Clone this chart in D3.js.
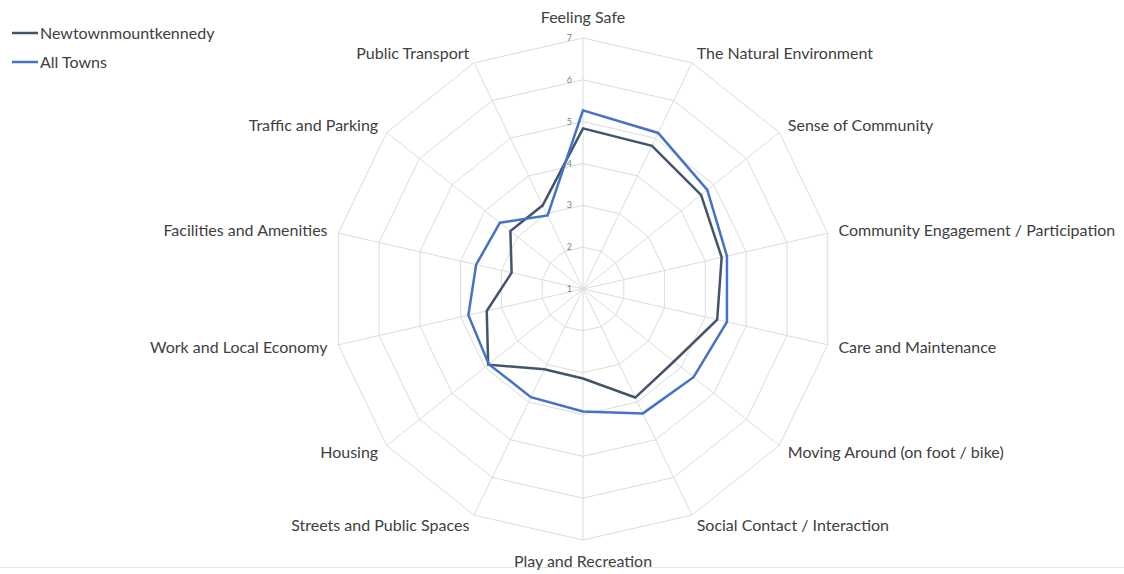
<!DOCTYPE html>
<html>
<head>
<meta charset="utf-8">
<script src="https://cdn.jsdelivr.net/npm/d3@7"></script>
<style>
  html, body { margin: 0; padding: 0; background: #ffffff; }
  svg { display: block; }
  text { font-family: "Lato", "Liberation Sans", sans-serif; }
</style>
</head>
<body>
<svg id="chart" width="1124" height="574"></svg>
<script>
const categories = [
  "Feeling Safe",
  "The Natural Environment",
  "Sense of Community",
  "Community Engagement / Participation",
  "Care and Maintenance",
  "Moving Around (on foot / bike)",
  "Social Contact / Interaction",
  "Play and Recreation",
  "Streets and Public Spaces",
  "Housing",
  "Work and Local Economy",
  "Facilities and Amenities",
  "Traffic and Parking",
  "Public Transport"
];
const seriesNames = ["Newtownmountkennedy", "All Towns"];
const newtownValues = [4.84, 4.80, 4.61, 4.40, 4.29, 3.78, 3.88, 3.14, 3.13, 3.90, 3.36, 2.75, 3.22, 3.22];
const allTownsValues = [5.27, 5.14, 4.80, 4.53, 4.53, 4.38, 4.30, 3.93, 3.87, 3.88, 3.81, 3.62, 3.54, 2.95];
const tickValues = [1, 2, 3, 4, 5, 6, 7];
const seriesColors = ["#44546A", "#4472C4"];

const svg = d3.select("#chart");
const cx = 583, cy = 289, R = 251;
const r = d3.scaleLinear().domain([1, 7]).range([0, R]);
const angle = d3.scaleLinear().domain([0, categories.length]).range([0, 2 * Math.PI]);

const pt = (i, v) => {
  const a = angle(i);
  return [cx + r(v) * Math.sin(a), cy - r(v) * Math.cos(a)];
};

// bottom border line
svg.append("line").attr("x1", 0).attr("x2", 1124).attr("y1", 567.5).attr("y2", 567.5)
  .attr("stroke", "#e6e6e6").attr("stroke-width", 1);

const grid = svg.append("g");
// rings
tickValues.forEach(t => {
  const pts = categories.map((c, i) => pt(i, t));
  grid.append("path")
    .attr("d", d3.line().curve(d3.curveLinearClosed)(pts))
    .attr("fill", "none").attr("stroke", "#dcdcdc").attr("stroke-width", 1);
});
// spokes
categories.forEach((c, i) => {
  const [x, y] = pt(i, 7);
  grid.append("line").attr("x1", cx).attr("y1", cy).attr("x2", x).attr("y2", y)
    .attr("stroke", "#dcdcdc").attr("stroke-width", 1);
});

// tick labels
tickValues.forEach(t => {
  svg.append("text")
    .attr("x", cx - 11).attr("y", cy - r(t) + 3)
    .attr("text-anchor", "end")
    .attr("font-size", 9).attr("fill", "#7f7f7f")
    .text(t);
});

// series
const series = [newtownValues, allTownsValues];
series.forEach((vals, s) => {
  const pts = vals.map((v, i) => pt(i, v));
  svg.append("path")
    .attr("d", d3.line().curve(d3.curveLinearClosed)(pts))
    .attr("fill", "none")
    .attr("stroke", seriesColors[s])
    .attr("stroke-width", 2.5)
    .attr("stroke-linejoin", "miter");
});

// category labels
categories.forEach((c, i) => {
  const a = angle(i);
  const s = Math.sin(a), co = Math.cos(a);
  const top = Math.abs(s) < 0.01;
  const lr = top ? 272 : 262;
  const x = cx + lr * s, y = cy - lr * co;
  svg.append("text")
    .attr("x", x).attr("y", y)
    .attr("dy", "0.35em")
    .attr("text-anchor", top ? "middle" : (s > 0 ? "start" : "end"))
    .attr("font-size", 16).attr("fill", "#404040")
    .text(c);
});

// legend
seriesNames.forEach((n, k) => {
  const y = 33 + k * 29;
  svg.append("line").attr("x1", 12).attr("x2", 38).attr("y1", y).attr("y2", y)
    .attr("stroke", seriesColors[k]).attr("stroke-width", 2.5);
  svg.append("text").attr("x", 40).attr("y", y).attr("dy", "0.35em")
    .attr("font-size", 16).attr("fill", "#404040").text(n);
});
</script>
</body>
</html>
